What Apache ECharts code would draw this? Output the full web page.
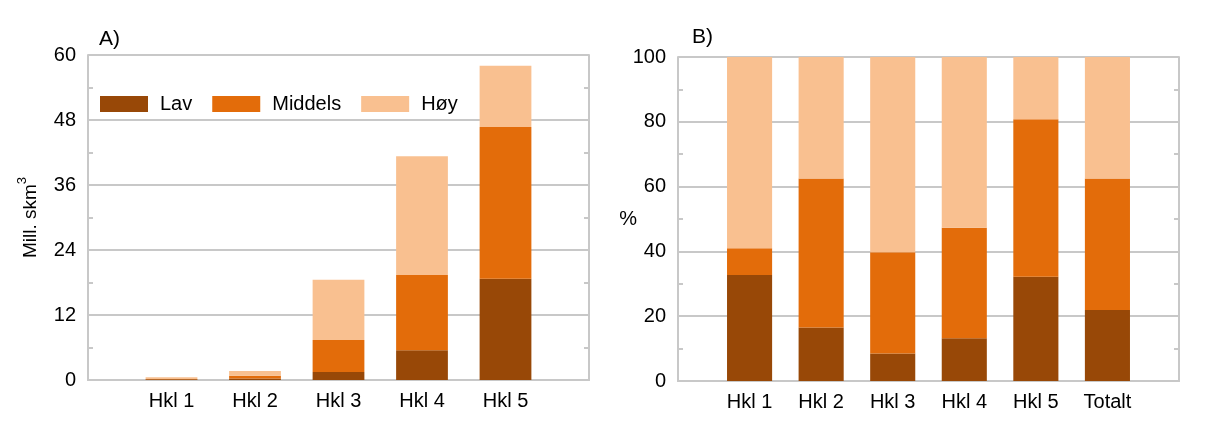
<!DOCTYPE html>
<html>
<head>
<meta charset="utf-8">
<script src="https://cdn.jsdelivr.net/npm/echarts@6/dist/echarts.min.js"></script>
<style>
  html, body { margin: 0; padding: 0; background: #fff; }
  #chart { width: 1206px; height: 428px; }
</style>
</head>
<body>
<div id="chart"></div>
<script>
// data
const CATS_A = ['Hkl 1', 'Hkl 2', 'Hkl 3', 'Hkl 4', 'Hkl 5']
const CATS_B = ['Hkl 1', 'Hkl 2', 'Hkl 3', 'Hkl 4', 'Hkl 5', 'Totalt']
const SERIES_NAMES = ['Lav', 'Middels', 'Høy']

// A) Mill. skm3
const LAV_A = [0.15, 0.28, 1.5, 5.5, 18.7]
const MIDDELS_A = [0.05, 0.52, 5.9, 13.9, 28.0]
const HOY_A = [0.3, 0.86, 11.1, 21.9, 11.3]

// B) prosent
const LAV_B = [32.7, 16.5, 8.5, 13.2, 32.2, 21.9]
const MIDDELS_B = [8.3, 46.0, 31.2, 34.1, 48.6, 40.6]
const HOY_B = [59.0, 37.5, 60.3, 52.7, 19.2, 37.5]

const TICKS_A = [0, 12, 24, 36, 48, 60]
const TICKS_B = [0, 20, 40, 60, 80, 100]

const COLORS = ['#984807', '#e36c0a', '#f9c090']
const FONT = 'Liberation Sans, Arial, sans-serif'
const GRID_COLOR = '#c8c8c8'

// empty slot before and after the bars
const pad = arr => [null].concat(arr, [null])

const chart = echarts.init(document.getElementById('chart'))

const xAxisBase = (gridIndex, cats) => ({
  type: 'category',
  gridIndex,
  data: [''].concat(cats, ['']),
  boundaryGap: false,
  axisLine: { show: true, lineStyle: { color: GRID_COLOR, width: 2 } },
  axisTick: { show: false },
  axisLabel: { interval: 0, color: '#000', fontSize: 20, fontFamily: FONT, margin: 11 },
  splitLine: { show: false }
})

const yAxisBase = (gridIndex, ticks) => ({
  type: 'value',
  gridIndex,
  min: ticks[0],
  max: ticks[ticks.length - 1],
  interval: ticks[1] - ticks[0],
  axisLine: { show: true, lineStyle: { color: GRID_COLOR, width: 2 } },
  axisTick: { show: false, inside: true },
  minorTick: { show: true, splitNumber: 2, length: 5, lineStyle: { color: GRID_COLOR, width: 2 } },
  axisLabel: { color: '#000', fontSize: 20, fontFamily: FONT, margin: 12 },
  splitLine: { show: true, lineStyle: { color: GRID_COLOR, width: 2 } }
})

// right border with inner minor ticks
const yAxisRight = (gridIndex, ticks) => {
  const ax = yAxisBase(gridIndex, ticks)
  ax.position = 'right'
  ax.axisLabel = { show: false }
  ax.splitLine = { show: false }
  return ax
}

const leftY = yAxisBase(0, TICKS_A)
leftY.name = '{base|Mill. skm}{sup|3}'
leftY.nameLocation = 'middle'
leftY.nameGap = 48
leftY.nameMoveOverlap = false
leftY.nameTextStyle = {
  color: '#000',
  fontSize: 19,
  fontFamily: FONT,
  rich: {
    base: { fontSize: 19, fontFamily: FONT, color: '#000', lineHeight: 24, verticalAlign: 'bottom' },
    sup: { fontSize: 13, fontFamily: FONT, color: '#000', lineHeight: 13, verticalAlign: 'top' }
  }
}

const rightY = yAxisBase(1, TICKS_B)
rightY.name = '%'
rightY.nameLocation = 'middle'
rightY.nameRotate = 0
rightY.nameGap = 41
rightY.nameMoveOverlap = false
rightY.nameTextStyle = { color: '#000', fontSize: 20, fontFamily: FONT }

const borderA = yAxisRight(0, TICKS_A)
const borderB = yAxisRight(1, TICKS_B)

// ticks inside the plot
;[leftY, rightY, borderA, borderB].forEach(ax => { ax.minorTick.inside = true })

const dataA = [LAV_A, MIDDELS_A, HOY_A]
const dataB = [LAV_B, MIDDELS_B, HOY_B]

const series = []
SERIES_NAMES.forEach((name, i) => {
  series.push({
    name,
    type: 'bar',
    stack: 'a',
    xAxisIndex: 0,
    yAxisIndex: 0,
    barWidth: '62%',
    itemStyle: { color: COLORS[i] },
    data: pad(dataA[i])
  })
})
SERIES_NAMES.forEach((name, i) => {
  series.push({
    name,
    type: 'bar',
    stack: 'b',
    xAxisIndex: 1,
    yAxisIndex: 2,
    barWidth: '63%',
    itemStyle: { color: COLORS[i] },
    data: pad(dataB[i])
  })
})

// top border line for each plot
const xTop = (gridIndex, cats) => ({
  type: 'category',
  gridIndex,
  position: 'top',
  data: [''].concat(cats, ['']),
  boundaryGap: false,
  axisLine: { show: true, lineStyle: { color: GRID_COLOR, width: 2 } },
  axisTick: { show: false },
  axisLabel: { show: false }
})

const option = {
  animation: false,
  textStyle: { fontFamily: FONT },
  title: [
    { text: 'A)', left: 94, top: 24, textStyle: { fontSize: 21, fontWeight: 'normal', color: '#000', fontFamily: FONT } },
    { text: 'B)', left: 687, top: 22, textStyle: { fontSize: 21, fontWeight: 'normal', color: '#000', fontFamily: FONT } }
  ],
  legend: {
    data: SERIES_NAMES,
    left: 95,
    top: 89,
    itemWidth: 48,
    itemHeight: 16,
    itemGap: 20,
    icon: 'rect',
    selectedMode: false,
    textStyle: { fontSize: 20, color: '#000', fontFamily: FONT, padding: [0, 0, 0, 7] }
  },
  grid: [
    { left: 88, right: 617, top: 55, bottom: 48 },
    { left: 678, right: 27, top: 57, bottom: 47 }
  ],
  xAxis: [xAxisBase(0, CATS_A), xAxisBase(1, CATS_B), xTop(0, CATS_A), xTop(1, CATS_B)],
  yAxis: [leftY, borderA, rightY, borderB],
  series
}

chart.setOption(option)
</script>
</body>
</html>
